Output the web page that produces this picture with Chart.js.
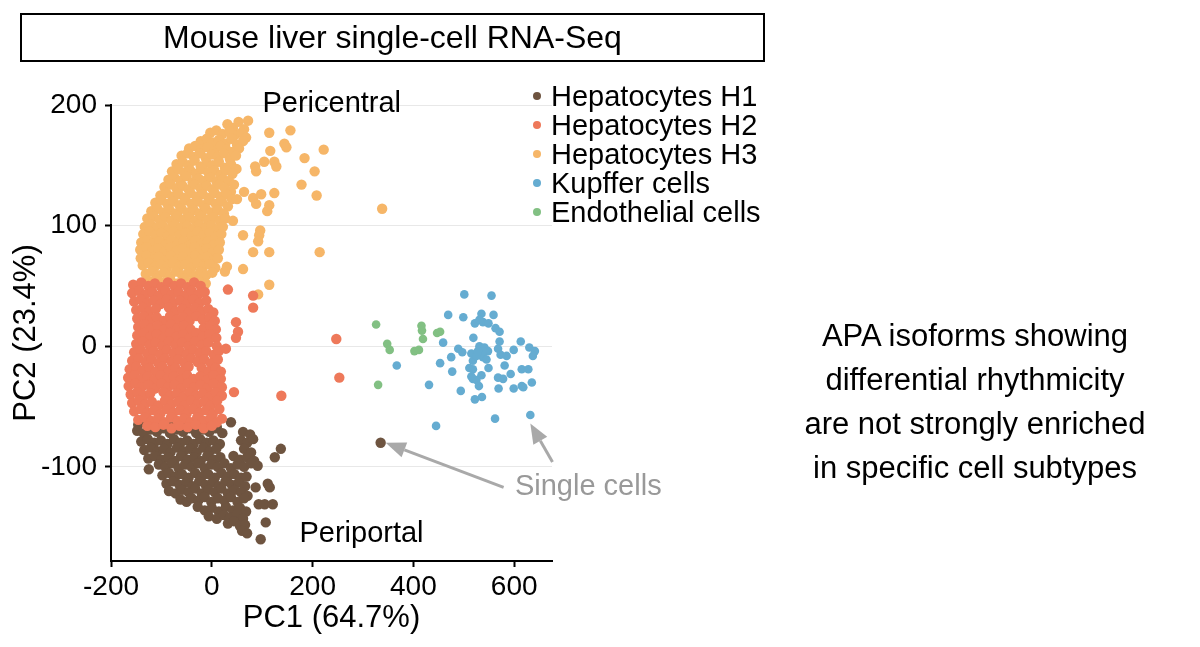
<!DOCTYPE html>
<html>
<head>
<meta charset="utf-8">
<script src="https://cdn.jsdelivr.net/npm/chart.js@4.4.1/dist/chart.umd.min.js"></script>
<style>
  html, body { margin: 0; padding: 0; background: #fff; }
  #wrap { position: relative; width: 1200px; height: 647px; overflow: hidden; font-family: "Liberation Sans", Arial, sans-serif; color: #000; }
  #c { position: absolute; left: 0; top: 0; }
  .title-box { position: absolute; left: 20px; top: 13px; width: 741px; height: 45px; border: 2px solid #000; text-align: center; line-height: 45px; font-size: 32px; }
  .legend { position: absolute; left: 531px; top: 82px; font-size: 29px; }
  .legend .row { height: 29px; line-height: 29px; white-space: nowrap; }
  .legend .dot { display: inline-block; width: 8px; height: 8px; border-radius: 50%; margin: 0 10px 0 2px; vertical-align: middle; position: relative; top: -2px; }
  .note { position: absolute; left: 780px; top: 314px; width: 390px; text-align: center; font-size: 31px; line-height: 44px; }
</style>
</head>
<body>
<div id="wrap">
  <canvas id="c" width="1200" height="647"></canvas>
  <div class="title-box">Mouse liver single-cell RNA-Seq</div>
  <div class="legend" id="legend"></div>
  <div class="note">APA isoforms showing<br>differential rhythmicity<br>are not strongly enriched<br>in specific cell subtypes</div>
</div>
<script>
// ---- data (PC1, PC2) ----
const seriesNames = ['Hepatocytes H1', 'Hepatocytes H2', 'Hepatocytes H3', 'Kupffer cells', 'Endothelial cells'];
const seriesColors = ['#6e5440', '#ee795a', '#f6b668', '#65acd1', '#82c083'];

const xTicks = [-200, 0, 200, 400, 600];
const yTicks = [-100, 0, 100, 200];

const hepH1 = [
  [-146,-65],[-133,-63],[-120,-66],[-107,-64],[-94,-67],[-81,-63],[-68,-66],[-55,-64],[-42,-67],[-29,-63],[-16,-66],[-3,-64],[10,-67],[38,-63],
  [-148,-70],[-135,-72],[-122,-69],[-109,-71],[-96,-68],[-83,-72],[-70,-69],[-57,-71],[-44,-68],[-31,-72],[-18,-69],[-5,-71],[8,-68],[21,-72],[62,-71],[76,-73],
  [-140,-79],[-127,-77],[-114,-80],[-101,-78],[-88,-81],[-75,-77],[-62,-80],[-49,-78],[-36,-81],[-23,-77],[-10,-80],[3,-78],[16,-81],[58,-78],[70,-80],[82,-77],
  [-134,-86],[-121,-84],[-108,-87],[-95,-85],[-82,-88],[-69,-84],[-56,-87],[-43,-85],[-30,-88],[-17,-84],[-4,-87],[9,-85],[64,-85],[78,-88],[137,-85],
  [-126,-93],[-113,-91],[-100,-94],[-87,-92],[-74,-95],[-61,-91],[-48,-94],[-35,-92],[-22,-95],[-9,-91],[4,-94],[17,-92],[43,-91],[56,-94],[70,-92],[84,-95],[125,-92],
  [-125,-102],[-105,-98],[-92,-100],[-79,-97],[-66,-101],[-53,-98],[-40,-100],[-27,-97],[-14,-101],[-1,-98],[12,-100],[25,-97],[38,-101],[51,-98],[64,-100],[78,-97],[91,-99],
  [-98,-107],[-85,-105],[-72,-108],[-59,-106],[-46,-109],[-33,-105],[-20,-108],[-7,-106],[6,-109],[19,-105],[32,-108],[45,-106],[58,-109],[69,-108],
  [-90,-114],[-77,-112],[-64,-115],[-51,-113],[-38,-116],[-25,-112],[-12,-115],[1,-113],[14,-116],[27,-112],[40,-115],[53,-113],[66,-116],[111,-114],[115,-117],
  [-85,-120],[-72,-122],[-59,-119],[-46,-121],[-33,-118],[-20,-122],[-7,-119],[6,-121],[19,-118],[32,-122],[45,-119],[58,-121],[71,-124],[87,-117],
  [-62,-127],[-50,-129],[-40,-126],[-27,-128],[-14,-125],[-1,-129],[12,-126],[25,-128],[38,-125],[51,-129],[64,-126],
  [-28,-133],[-14,-136],[0,-134],[14,-137],[28,-133],[42,-136],[56,-134],[68,-137],[93,-131],[105,-131],[121,-131],
  [-6,-141],[10,-143],[24,-140],[36,-142],[50,-139],[62,-143],
  [32,-147],[44,-145],[56,-149],[66,-148],[107,-146],
  [60,-153],[70,-155],[97,-160],
  [335,-80]
];

const hepH2 = [
  [-156,51],[-140,53],[-126,50],[-113,52],[-100,49],[-87,53],[-74,50],[-61,52],[-48,49],[-35,53],[-22,50],
  [-158,44],[-144,46],[-131,43],[-118,45],[-105,42],[-92,46],[-79,43],[-66,45],[-53,42],[-40,46],[-27,43],[-14,45],
  [-154,37],[-141,39],[-128,36],[-115,38],[-102,35],[-89,39],[-76,36],[-63,38],[-50,35],[-37,39],[-24,36],[-11,38],
  [-150,30],[-137,32],[-124,29],[-111,31],[-85,32],[-72,29],[-59,31],[-46,28],[-33,32],[-20,29],[-7,31],[3,28],
  [-148,23],[-135,25],[-122,22],[-109,24],[-96,21],[-83,25],[-70,22],[-57,24],[-44,21],[-31,25],[-18,22],[-5,24],[6,21],
  [-146,16],[-133,18],[-120,15],[-107,17],[-94,14],[-81,18],[-68,15],[-55,17],[-42,14],[-16,15],[-3,17],[8,14],
  [-148,9],[-135,11],[-122,8],[-109,10],[-96,7],[-83,11],[-70,8],[-57,10],[-44,7],[-31,11],[-18,8],[-5,10],[9,7],
  [-150,2],[-137,4],[-124,1],[-111,3],[-98,0],[-85,4],[-72,1],[-59,3],[-46,0],[-33,4],[-20,1],[-7,3],[10,0],
  [-154,-5],[-141,-3],[-128,-6],[-115,-4],[-102,-7],[-89,-3],[-76,-6],[-63,-4],[-50,-7],[-37,-3],[-24,-6],[-11,-4],[4,-7],[14,-4],
  [-158,-12],[-145,-10],[-132,-13],[-119,-11],[-106,-14],[-93,-10],[-80,-13],[-67,-11],[-54,-14],[-41,-10],[-28,-13],[-15,-11],[-2,-14],[12,-11],
  [-163,-19],[-150,-17],[-137,-20],[-124,-18],[-111,-21],[-98,-17],[-85,-20],[-72,-18],[-59,-21],[-46,-17],[-20,-18],[-7,-21],[8,-18],[18,-21],
  [-166,-26],[-153,-24],[-140,-27],[-127,-25],[-114,-28],[-101,-24],[-88,-27],[-75,-25],[-62,-28],[-49,-24],[-36,-27],[-23,-25],[-10,-28],[3,-24],[18,-27],
  [-165,-33],[-152,-31],[-139,-34],[-126,-32],[-113,-35],[-100,-31],[-87,-34],[-74,-32],[-61,-35],[-48,-31],[-35,-34],[-22,-32],[-9,-35],[4,-31],[20,-34],
  [-161,-40],[-148,-38],[-135,-41],[-122,-39],[-96,-38],[-83,-41],[-70,-39],[-57,-42],[-44,-38],[-31,-41],[-18,-39],[-5,-42],[8,-38],[20,-41],
  [-158,-47],[-145,-45],[-132,-48],[-119,-46],[-106,-49],[-93,-45],[-80,-48],[-67,-46],[-54,-49],[-41,-45],[-28,-48],[-15,-46],[-2,-49],[11,-45],
  [-154,-54],[-141,-52],[-128,-55],[-115,-53],[-102,-56],[-89,-52],[-76,-55],[-63,-53],[-50,-56],[-37,-52],[-24,-55],[-11,-53],[2,-56],[15,-52],
  [-146,-61],[-133,-59],[-120,-62],[-107,-60],[-94,-63],[-81,-59],[-68,-62],[-55,-60],[-42,-63],[-29,-59],[-16,-62],[-3,-60],[10,-63],[20,-60],
  [-128,-66],[-112,-67],[-96,-65],[-80,-68],[-64,-66],[-48,-67],[-32,-65],[-16,-68],[0,-66],
  [32,47],[82,42],[82,32],[48,20],[52,12],[48,7],[28,-2],[44,-38],[138,-41],[247,6],[253,-26]
];

const hepH3 = [
  [31,184],[42,181],[53,186],[64,180],[72,187],
  [-3,177],[9,179],[21,176],[35,178],[46,175],[59,177],[68,173],
  [-22,170],[-10,172],[2,169],[14,171],[27,168],[39,172],[50,167],[62,170],
  [-45,164],[-33,166],[-21,163],[-8,165],[5,162],[17,166],[29,163],[41,161],[54,164],
  [-60,158],[-48,160],[-36,157],[-24,160],[-12,156],[0,159],[12,157],[24,160],[36,155],[48,158],
  [-70,151],[-58,153],[-46,150],[-34,154],[-22,149],[-10,152],[2,150],[14,153],[26,148],[38,151],[49,147],
  [-79,145],[-67,147],[-55,144],[-43,146],[-31,143],[-19,147],[-7,144],[5,146],[17,142],[29,146],[41,143],
  [-86,138],[-74,140],[-62,137],[-50,141],[-38,136],[-26,139],[-14,137],[-2,140],[10,136],[22,139],[34,137],[44,134],
  [-94,132],[-82,134],[-70,131],[-58,133],[-46,130],[-34,134],[-22,131],[-10,133],[2,130],[14,134],[26,131],[38,128],
  [-102,125],[-90,127],[-78,124],[-66,126],[-54,123],[-42,127],[-30,124],[-18,126],[-6,123],[6,127],[18,124],[30,126],[40,122],
  [-112,119],[-100,121],[-88,118],[-76,120],[-64,117],[-52,121],[-40,118],[-28,120],[-16,117],[-4,121],[8,118],[20,120],[32,116],
  [-120,112],[-108,114],[-96,111],[-84,113],[-72,110],[-60,114],[-48,111],[-36,113],[-24,110],[-12,114],[0,111],[12,113],[24,110],
  [-128,106],[-116,108],[-104,105],[-92,107],[-80,104],[-68,108],[-56,105],[-44,107],[-32,104],[-20,108],[-8,105],[4,107],[16,104],[27,106],
  [-133,99],[-121,101],[-109,98],[-97,100],[-85,97],[-73,101],[-61,98],[-49,100],[-37,97],[-25,101],[-13,98],[-1,100],[11,97],[22,99],
  [-136,93],[-124,95],[-112,92],[-100,94],[-88,91],[-76,95],[-64,92],[-52,94],[-40,91],[-28,95],[-16,92],[-4,94],[8,91],[19,93],
  [-140,86],[-128,88],[-116,85],[-104,87],[-92,84],[-80,88],[-68,85],[-56,87],[-44,84],[-32,88],[-20,85],[-8,87],[4,84],[16,86],
  [-142,80],[-130,82],[-118,79],[-106,81],[-94,78],[-82,82],[-70,79],[-58,81],[-46,78],[-34,82],[-22,79],[-10,81],[2,78],[14,80],
  [-141,73],[-129,75],[-117,72],[-105,74],[-93,71],[-81,75],[-69,72],[-57,74],[-45,71],[-33,75],[-21,72],[-9,74],[3,71],[12,73],
  [-137,67],[-125,69],[-113,66],[-101,68],[-89,65],[-77,69],[-65,66],[-53,68],[-41,65],[-29,69],[-17,66],[-5,68],[7,65],
  [-131,60],[-119,62],[-107,59],[-95,61],[-83,58],[-71,62],[-59,59],[-47,61],[-35,58],[-23,62],[-11,59],[1,61],
  [-124,54],[-110,56],[-96,53],[-82,55],[-68,52],[-54,56],[-40,53],[-26,55],[-12,52],
  [114,177],[156,179],[144,168],[148,165],[184,156],[222,163],[204,145],[178,134],[208,125],[214,78],
  [116,162],[104,153],[124,153],[128,149],[86,149],[88,145],[64,128],[82,123],[88,118],[98,126],
  [124,127],[114,117],[110,112],[50,122],[42,104],[62,92],[96,96],[94,92],[92,87],[82,78],
  [114,78],[62,64],[30,66],[26,62],[114,51],[92,43],[338,114]
];

const kupffer = [
  [501,43],[555,42],[469,26],[499,24],[535,27],[559,26],[522,19],[538,20],[549,19],[531,22],
  [563,15],[571,12],[519,7],[571,4],[613,4],[459,3],[489,-2],[497,-5],[515,-6],[531,0],
  [541,-1],[548,-4],[538,-9],[568,-2],[573,-7],[585,-8],[599,-3],[630,-1],[641,-4],[637,-8],
  [475,-9],[453,-14],[518,-12],[525,-8],[511,-18],[518,-19],[549,-18],[581,-16],[615,-19],[628,-19],
  [477,-21],[367,-16],[535,-24],[518,-27],[525,-28],[568,-26],[578,-27],[593,-23],[431,-32],[494,-37],
  [530,-33],[569,-35],[599,-35],[615,-33],[618,-34],[635,-30],[522,-44],[536,-42],[562,-60],[632,-57],
  [445,-66],[538,-4],[528,-4],[545,-11],[515,-25]
];

const endothelial = [
  [326,18],[348,2],[353,-3],[330,-32],[416,17],[417,13],[419,6],[402,-4],[411,-3],[447,11],[453,12]
];

// annotations in data units
const arrowLines = [
  { from: [579, -117], to: [345, -80] },
  { from: [676, -96], to: [632, -64] }
];
const noteTexts = [
  { text: 'Pericentral', at: [238, 201], color: '#000' },
  { text: 'Periportal', at: [297, -156], color: '#000' },
  { text: 'Single cells', at: [747, -117], color: '#999' }
];

const FONT = '"Liberation Sans", Arial, sans-serif';

// legend
const legendEl = document.getElementById('legend');
seriesNames.forEach((name, i) => {
  const row = document.createElement('div');
  row.className = 'row';
  row.innerHTML = '<span class="dot" style="background:' + seriesColors[i] + '"></span>' + name;
  legendEl.appendChild(row);
});

const toPts = arr => arr.map(p => ({ x: p[0], y: p[1] }));

const annotate = {
  id: 'annotate',
  afterDatasetsDraw(chart) {
    const ctx = chart.ctx, xs = chart.scales.x, ys = chart.scales.y;
    ctx.save();
    ctx.strokeStyle = '#a9a9a9';
    ctx.fillStyle = '#a9a9a9';
    ctx.lineWidth = 3;
    arrowLines.forEach(a => {
      const x1 = xs.getPixelForValue(a.from[0]), y1 = ys.getPixelForValue(a.from[1]);
      const x2 = xs.getPixelForValue(a.to[0]), y2 = ys.getPixelForValue(a.to[1]);
      const ang = Math.atan2(y2 - y1, x2 - x1);
      const head = 20, half = 8;
      const bx = x2 - head * Math.cos(ang), by = y2 - head * Math.sin(ang);
      ctx.beginPath();
      ctx.moveTo(x1, y1);
      ctx.lineTo(bx, by);
      ctx.stroke();
      ctx.beginPath();
      ctx.moveTo(x2, y2);
      ctx.lineTo(bx + half * Math.sin(ang), by - half * Math.cos(ang));
      ctx.lineTo(bx - half * Math.sin(ang), by + half * Math.cos(ang));
      ctx.closePath();
      ctx.fill();
    });
    ctx.font = '29px ' + FONT;
    ctx.textAlign = 'center';
    ctx.textBaseline = 'middle';
    noteTexts.forEach(n => {
      ctx.fillStyle = n.color;
      ctx.fillText(n.text, xs.getPixelForValue(n.at[0]), ys.getPixelForValue(n.at[1]));
    });
    ctx.restore();
  }
};

const groups = [
  { data: kupffer, idx: 3, r: 4.3 },
  { data: endothelial, idx: 4, r: 4.3 },
  { data: hepH2, idx: 1, r: 5.2 },
  { data: hepH1, idx: 0, r: 5.2 },
  { data: hepH3, idx: 2, r: 5.2 }
];

new Chart(document.getElementById('c'), {
  type: 'scatter',
  data: {
    datasets: groups.map(g => ({
      label: seriesNames[g.idx],
      data: toPts(g.data),
      backgroundColor: seriesColors[g.idx],
      borderWidth: 0,
      pointRadius: g.r
    }))
  },
  options: {
    responsive: false,
    animation: false,
    layout: { padding: { top: 105, right: 648, left: 0, bottom: 0 } },
    plugins: { legend: { display: false }, tooltip: { enabled: false } },
    scales: {
      x: {
        type: 'linear',
        min: -200,
        max: 675,
        afterFit: s => { s.height = 86; },
        afterBuildTicks: s => { s.ticks = xTicks.map(v => ({ value: v })); },
        ticks: { color: '#000', font: { family: FONT, size: 28 }, padding: 3, maxRotation: 0, callback: v => String(v) },
        grid: { drawOnChartArea: false, tickLength: 6, tickColor: '#000', tickWidth: 2 },
        border: { display: true, color: '#000', width: 2 },
        title: { display: true, text: 'PC1 (64.7%)', color: '#000', font: { family: FONT, size: 31 }, padding: { top: 10, bottom: 10 } }
      },
      y: {
        type: 'linear',
        min: -178,
        max: 200,
        afterFit: s => { s.width = 111; },
        afterBuildTicks: s => { s.ticks = yTicks.map(v => ({ value: v })); },
        ticks: { color: '#000', font: { family: FONT, size: 28 }, padding: 8, callback: v => String(v) },
        grid: { color: '#e8e8e8', lineWidth: 1, tickLength: 6, tickColor: '#000', tickWidth: 2 },
        border: { display: true, color: '#000', width: 2 },
        title: { display: true, text: 'PC2 (23.4%)', color: '#000', font: { family: FONT, size: 31 }, padding: { top: 8, bottom: 8 } }
      }
    }
  },
  plugins: [annotate]
});
</script>
</body>
</html>
